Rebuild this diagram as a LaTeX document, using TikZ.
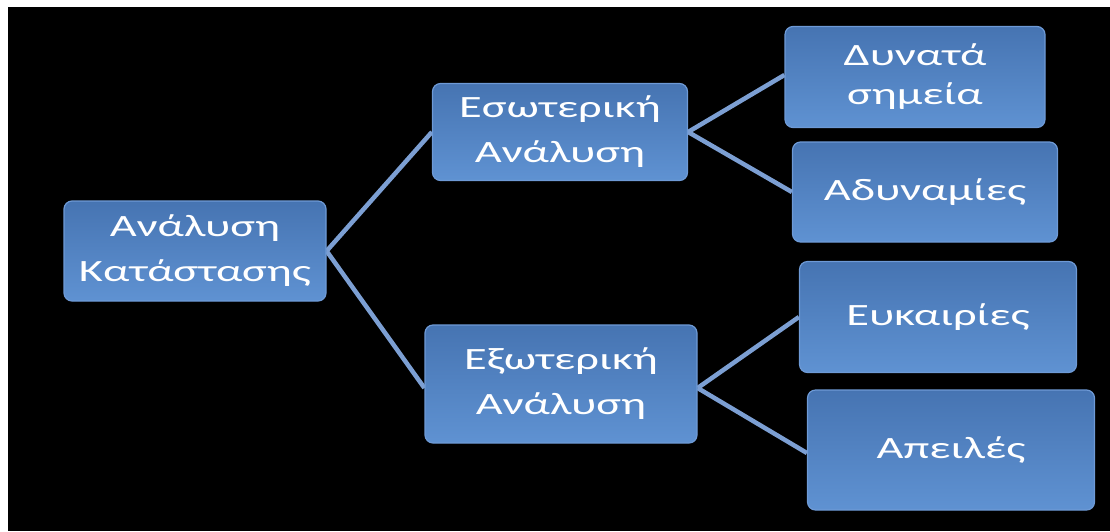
\documentclass[tikz,border=0pt]{standalone}
\usepackage{fontspec}
\setmainfont{Carlito}[FakeStretch=1.5]
\usetikzlibrary{backgrounds}
\definecolor{boxtop}{HTML}{4674B2}
\definecolor{boxbot}{HTML}{5F92D2}
\definecolor{boxedge}{HTML}{6E9AD6}
\definecolor{linkcol}{HTML}{7C9FD3}
\tikzset{
  boxnode/.style={rectangle, rounded corners=8pt, top color=boxtop, bottom color=boxbot,
    draw=boxedge, line width=1.2pt, text=white, align=center, inner sep=0pt,
    font=\fontsize{31}{45}\selectfont},
  link/.style={draw=linkcol, line width=4.5pt}
}
\begin{document}
\begin{tikzpicture}[x=1pt,y=-1pt]
\useasboundingbox (0,0) rectangle (1110,531);
\node[boxnode, minimum width=262pt, minimum height=100pt] (root) at (195,251) {Ανάλυση\\Κατάστασης};
\node[boxnode, minimum width=255pt, minimum height=97pt] (int) at (560,132) {Εσωτερική\\Ανάλυση};
\node[boxnode, minimum width=272pt, minimum height=118pt] (ext) at (561,384) {Εξωτερική\\Ανάλυση};
\node[boxnode, minimum width=260pt, minimum height=101pt, font=\fontsize{31}{39}\selectfont] (str) at (915,77) {Δυνατά\\σημεία};
\node[boxnode, minimum width=265pt, minimum height=100pt] (weak) at (925,192) {Αδυναμίες};
\node[boxnode, minimum width=277pt, minimum height=111pt] (opp) at (938,317) {Ευκαιρίες};
\node[boxnode, minimum width=287pt, minimum height=120pt] (thr) at (951,450) {Απειλές};
\begin{pgfonlayer}{background}
\fill[white] (0,0) rectangle (1110,531);
\fill[black] (8,7) rectangle (1110,531);
\draw[link] (root.east) -- (int.west);
\draw[link] (root.east) -- ([yshift=-4pt]ext.west);
\draw[link] (int.east) -- ([yshift=2pt]str.west);
\draw[link] (int.east) -- (weak.west);
\draw[link] ([yshift=-4pt]ext.east) -- (opp.west);
\draw[link] ([yshift=-4pt]ext.east) -- ([yshift=-3pt]thr.west);
\end{pgfonlayer}
\end{tikzpicture}
\end{document}
